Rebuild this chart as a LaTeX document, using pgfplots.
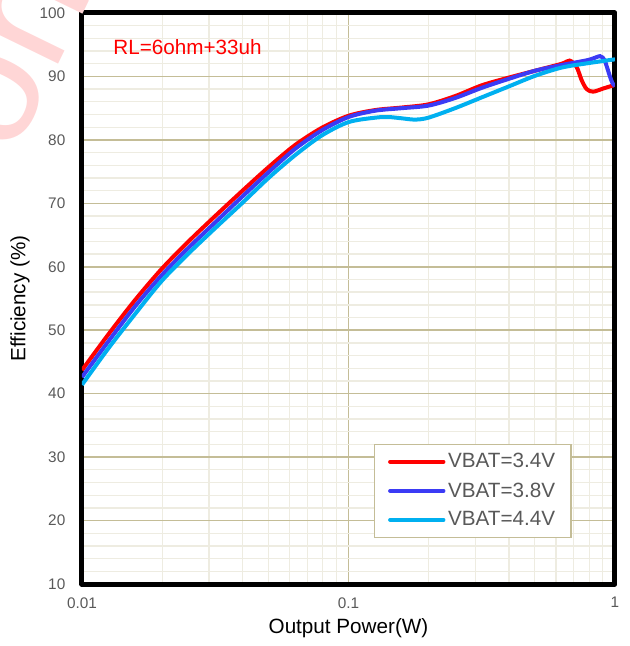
\documentclass[border=0pt]{standalone}
\usepackage{fontspec}
\setmainfont{Liberation Sans}
\usepackage{pgfplots}
\pgfplotsset{compat=1.18}
\definecolor{gridmaj}{HTML}{C4BD97}
\definecolor{gridmin}{HTML}{EEECE1}
\definecolor{ticktxt}{HTML}{595959}
\definecolor{vred}{HTML}{FF0000}
\definecolor{vblue}{HTML}{3B3BF5}
\definecolor{vcyan}{HTML}{00B0F0}

\begin{document}
\begin{tikzpicture}
\begin{axis}[
  name=ax,
  scale only axis,
  width=399.75pt, height=428.25pt,
  xmode=log,
  xmin=0.01, xmax=1, ymin=10, ymax=100,
  xtick={0.01,0.1,1}, xticklabels={0.01,0.1,1},
  ytick={10,20,...,100},
  minor y tick num=4,
  grid=both,
  major grid style={gridmaj, line width=1.2pt},
  minor grid style={gridmin, line width=1pt},
  major tick length=0pt, minor tick length=0pt,
  axis line style={line width=3.75pt, line join=round},
  /pgf/number format/assume math mode=true,
  tick label style={font=\fontsize{11.5}{13}\selectfont, text=ticktxt},
  xticklabel style={yshift=-6.5pt},
  yticklabel style={xshift=-9pt},
  xlabel={Output Power(W)}, ylabel={Efficiency (\%)},
  label style={font=\fontsize{15.5}{18}\selectfont},
  xlabel style={at={(axis description cs:0.5,-0.0771)}, anchor=center},
  ylabel style={at={(axis description cs:-0.1163,0.5)}, anchor=center},
  legend style={at={(0.919,0.0806)}, anchor=south east, draw=gridmaj,
    line width=1pt, fill=white, text=ticktxt,
    font=\fontsize{15.5}{18}\selectfont, row sep=5.5pt,
    inner xsep=10pt, inner ysep=5pt},
  legend cell align=left,
  legend image code/.code={\draw[#1, line cap=round] (0pt,0pt) -- (40pt,0pt);},
  every axis plot/.append style={line width=3pt, smooth, tension=0.5},
]

% VBAT=3.4V
\addplot[vred] coordinates {
  (0.01,43.7) (0.01259,49.4) (0.01585,54.8) (0.01995,59.7) (0.02512,64.0)
  (0.03162,68.0) (0.03981,71.9) (0.05012,75.7) (0.06310,79.2) (0.07943,81.9)
  (0.1,83.8) (0.1259,84.7) (0.1585,85.1) (0.1995,85.6) (0.2512,86.9)
  (0.3162,88.6) (0.3981,89.8) (0.5012,90.9) (0.6310,92.0) (0.6761,92.5)
  (0.7178,91.5) (0.7499,89.4) (0.7834,88.0) (0.8279,87.6) (0.9036,88.1)
  (0.9863,88.6) (1,88.7)
};
\addlegendentry{VBAT=3.4V}

% VBAT=3.8V
\addplot[vblue] coordinates {
  (0.01,42.6) (0.01259,48.3) (0.01585,53.8) (0.01995,58.7) (0.02512,63.0)
  (0.03162,67.0) (0.03981,71.0) (0.05012,74.9) (0.06310,78.6) (0.07943,81.5)
  (0.1,83.6) (0.1259,84.6) (0.1585,85.0) (0.1995,85.4) (0.2512,86.6)
  (0.3162,88.2) (0.3981,89.6) (0.5012,90.9) (0.6310,91.8) (0.7943,92.6)
  (0.8790,93.2) (0.9120,92.6) (0.9311,91.6) (0.9572,90.0) (0.9795,88.9)
  (1,88.5)
};
\addlegendentry{VBAT=3.8V}

% VBAT=4.4V
\addplot[vcyan] coordinates {
  (0.01,41.4) (0.01259,47.2) (0.01585,52.6) (0.01995,57.8) (0.02512,62.1)
  (0.03162,66.1) (0.03981,70.0) (0.05012,74.0) (0.06310,77.6) (0.07943,80.7)
  (0.1,82.8) (0.1259,83.5) (0.1413,83.6) (0.1585,83.4) (0.1778,83.2)
  (0.1995,83.5) (0.2512,85.0) (0.3162,86.7) (0.3981,88.4) (0.5012,90.1)
  (0.6310,91.4) (0.7943,92.1) (1,92.7)
};
\addlegendentry{VBAT=4.4V}

\node[anchor=west, text=vred, font=\fontsize{15.5}{18}\selectfont]
  at (rel axis cs:0.05,0.94) {RL=6ohm+33uh};
\coordinate (bl) at (rel axis cs:0,0);
\coordinate (tr) at (rel axis cs:1,1);
\end{axis}
\pgfresetboundingbox
\path[use as bounding box] ([xshift=-61.5pt,yshift=-46.5pt]bl) rectangle ([xshift=11.25pt,yshift=9.75pt]tr);
% watermark
\begin{scope}[shift={([xshift=-61.5pt,yshift=9.75pt]bl |- tr)}]
  \node[rotate=64, anchor=base west, inner sep=0pt, text=red!16, font=\fontsize{125}{125}\selectfont]
    at (-30pt,-200pt) {Confidential};
\end{scope}
\end{tikzpicture}
\end{document}
